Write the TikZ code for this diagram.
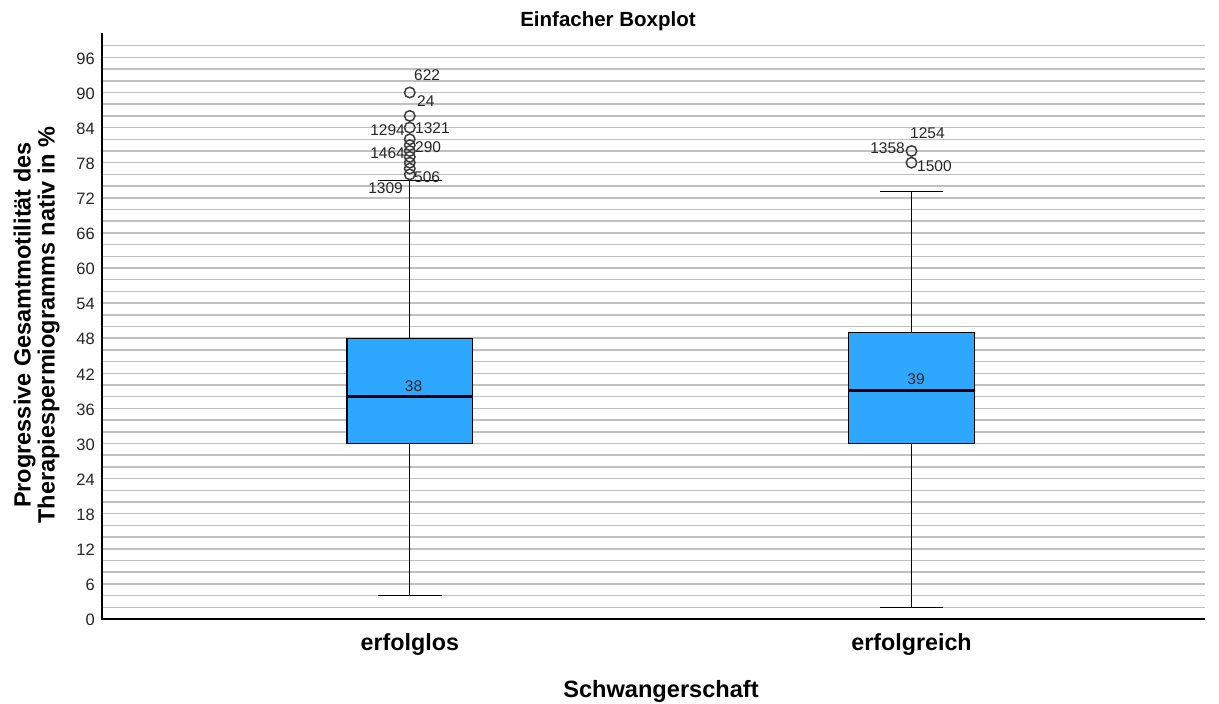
\documentclass[tikz,border=0pt]{standalone}
\usepackage{fontspec}
\setmainfont{Liberation Sans}
\definecolor{gridgray}{RGB}{192,192,192}
\definecolor{boxblue}{RGB}{46,168,255}
\definecolor{outgray}{RGB}{60,60,60}
\begin{document}
\begin{tikzpicture}[x=1pt,y=-1pt,
  declare function={yv(\v)=619-5.85*\v;},
  gridln/.style={draw=gridgray, line width=1.5pt},
  axisline/.style={draw=black, line width=1.6pt},
  boxst/.style={draw=black, line width=1.1pt, fill=boxblue, inner sep=0pt, minimum width=125.5pt},
  whisk/.style={draw=black, line width=1pt},
  med/.style={draw=black, line width=3pt},
  outl/.style={circle, draw=outgray, line width=1.5pt, minimum size=10.5pt, inner sep=0pt},
  tlab/.style={inner sep=0pt, font=\fontsize{16.5}{19}\selectfont, text=black!85},
  dlab/.style={inner sep=0pt, font=\fontsize{15.5}{18}\selectfont, text=black!85},
  catlab/.style={inner sep=0pt, font=\bfseries\fontsize{23.3}{26}\selectfont},
  ttl/.style={inner sep=0pt, font=\bfseries\fontsize{20.5}{24}\selectfont}]
\useasboundingbox (0,0) rectangle (1219,704);
\fill[white] (0,0) rectangle (1219,704);
% grid
\foreach \v in {2,4,...,98}
  \draw[gridln] (102,{yv(\v)}) -- (1205,{yv(\v)});
% axes
\coordinate (orig) at (102,619);
\coordinate (ytop) at (102,33);
\coordinate (xend) at (1205,619);
\draw[axisline] (ytop) -- (orig) -- (xend);
% tick labels
\foreach \v in {0,6,...,96}
  \node[tlab, anchor=east] (t\v) at (95,{yv(\v)+1}) {\v};
% ---------- box 1 (erfolglos)
\coordinate (w1top) at (409.75,{yv(75)});
\coordinate (w1bot) at (409.75,{yv(4)});
\coordinate (c1tl) at (378,{yv(75)});
\coordinate (c1tr) at (441.5,{yv(75)});
\coordinate (c1bl) at (378,{yv(4)});
\coordinate (c1br) at (441.5,{yv(4)});
\node[boxst, minimum height=105.3pt] (box1) at (409.75,{yv(39)}) {};
\draw[whisk] (w1top) -- (box1.north);
\draw[whisk] (box1.south) -- (w1bot);
\draw[whisk] (c1tl) -- (c1tr);
\draw[whisk] (c1bl) -- (c1br);
\coordinate (m1) at (409.75,{yv(38)});
\draw[med] (box1.west |- m1) -- (box1.east |- m1);
\node[dlab] (med1) at (413.5,386) {38};
% outliers 1
\foreach \v/\n in {90/a,86/b,84/c,82/d,81/e,80/f,79/g,78/h,77/i,76/j}
  \node[outl] (o1\n) at (409.75,{yv(\v)}) {};
\node[dlab, anchor=west] (l622) at (414,75.5) {622};
\node[dlab, anchor=west] (l24) at (417,101) {24};
\node[dlab, anchor=east] (l1294) at (405,130.5) {1294};
\node[dlab, anchor=west] (l1321) at (415,128.5) {1321};
\node[dlab, anchor=east] (l1464) at (405,153.5) {1464};
\node[dlab, anchor=west] (l290) at (415,147.5) {290};
\node[dlab, anchor=west] (l506) at (414,177) {506};
\node[dlab, anchor=east] (l1309) at (403,188.5) {1309};
% ---------- box 2 (erfolgreich)
\coordinate (w2top) at (911.5,{yv(73)});
\coordinate (w2bot) at (911.5,{yv(2)});
\coordinate (c2tl) at (880,{yv(73)});
\coordinate (c2tr) at (943,{yv(73)});
\coordinate (c2bl) at (880,{yv(2)});
\coordinate (c2br) at (943,{yv(2)});
\node[boxst, minimum height=111.15pt] (box2) at (911.5,{yv(39.5)}) {};
\draw[whisk] (w2top) -- (box2.north);
\draw[whisk] (box2.south) -- (w2bot);
\draw[whisk] (c2tl) -- (c2tr);
\draw[whisk] (c2bl) -- (c2br);
\coordinate (m2) at (911.5,{yv(39)});
\draw[med] (box2.west |- m2) -- (box2.east |- m2);
\node[dlab] (med2) at (916,379.5) {39};
% outliers 2
\node[outl] (o2a) at (911.5,{yv(80)}) {};
\node[outl] (o2b) at (911.5,{yv(78)}) {};
\node[dlab, anchor=west] (l1254) at (910,133.5) {1254};
\node[dlab, anchor=east] (l1358) at (905,148.5) {1358};
\node[dlab, anchor=west] (l1500) at (917,166) {1500};
% ---------- labels
\node[catlab, anchor=base] (cat1) at (409.75,650) {erfolglos};
\node[catlab, anchor=base] (cat2) at (911.5,650) {erfolgreich};
\node[catlab, anchor=base, font=\bfseries\fontsize{23.6}{26}\selectfont] (xtitle) at (661,697) {Schwangerschaft};
\node[ttl, anchor=base] (title) at (608,27) {Einfacher Boxplot};
\node[rotate=90, align=center, inner sep=0pt, font=\bfseries\fontsize{23.5}{24}\selectfont] (ytitle) at (36.5,325) {Progressive Gesamtmotilität des\\Therapiespermiogramms nativ in \%};
\end{tikzpicture}
\end{document}
